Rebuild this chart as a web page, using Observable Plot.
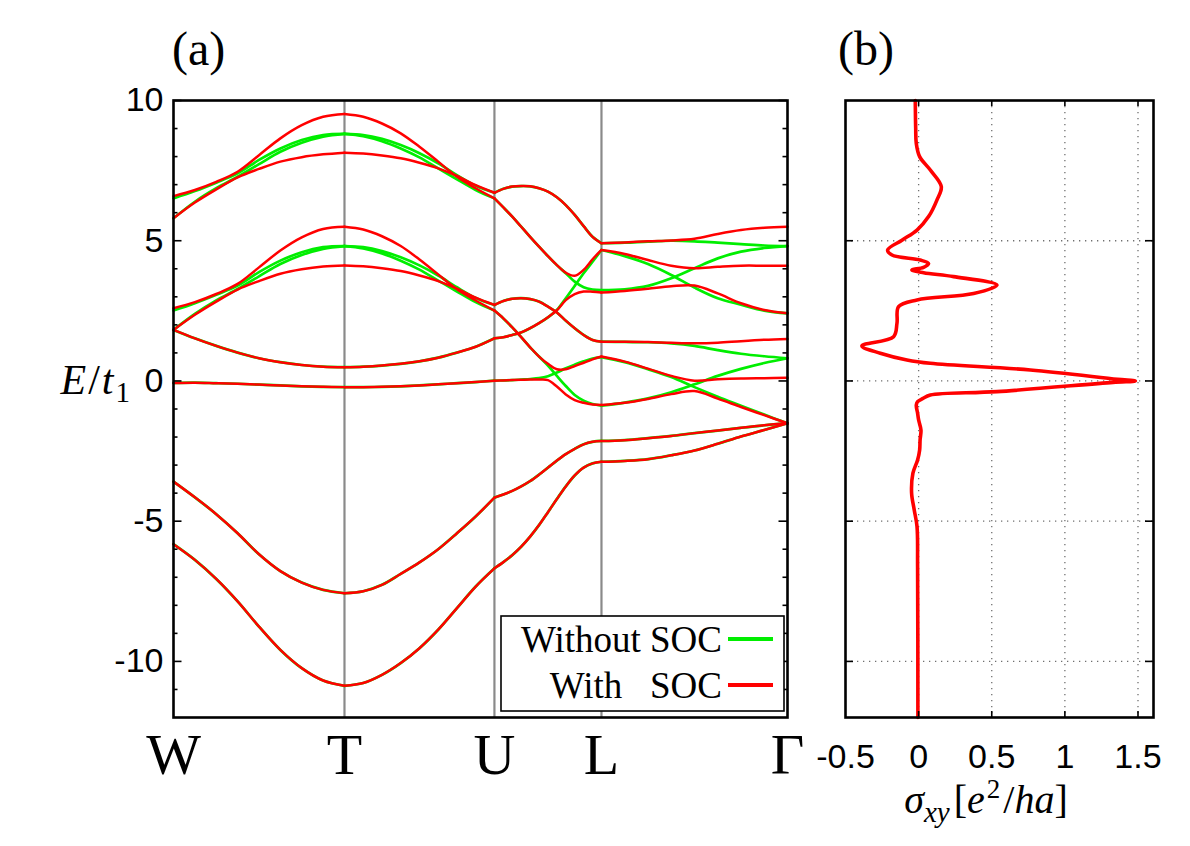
<!DOCTYPE html>
<html>
<head>
<meta charset="utf-8">
<script src="https://cdn.jsdelivr.net/npm/d3@7"></script>
<script src="https://cdn.jsdelivr.net/npm/@observablehq/plot@0.6"></script>
<style>
  body { margin: 0; background: #fff; }
  #fig { position: relative; width: 1190px; height: 846px; background: #fff; overflow: hidden; }
  #fig svg { position: absolute; top: 0; }
</style>
</head>
<body>
<div id="fig"></div>
<script>
// High-symmetry path and tick labels
const pathLabels = ["W", "T", "U", "L", "Γ"];
const pathK = [0, 1, 1.877, 2.503, 3.591];
const energyTicks = [-10, -5, 0, 5, 10];
const energyMinor = [-11, -9, -8, -7, -6, -4, -3, -2, -1, 1, 2, 3, 4, 6, 7, 8, 9];
const sigmaTicks = [-0.5, 0, 0.5, 1, 1.5];
const sigmaGridE = [-10, -5, 0, 5];

// Bands with spin-orbit coupling, one list per path segment (evenly spaced samples)
const socWT = [
  [6.59, 6.81, 7.10, 7.46, 8.05, 8.65, 9.12, 9.42, 9.52],
  [5.80, 6.36, 6.83, 7.26, 7.56, 7.82, 7.98, 8.08, 8.14],
  [2.59, 2.81, 3.10, 3.46, 4.05, 4.65, 5.12, 5.42, 5.50],
  [1.82, 2.36, 2.83, 3.26, 3.56, 3.82, 3.98, 4.08, 4.12],
  [1.82, 1.52, 1.25, 1.01, 0.81, 0.67, 0.57, 0.51, 0.49],
  [-0.07, -0.06, -0.08, -0.10, -0.13, -0.16, -0.19, -0.21, -0.22],
  [-3.59, -4.15, -4.75, -5.43, -6.18, -6.78, -7.19, -7.45, -7.57],
  [-5.82, -6.38, -7.06, -7.86, -8.76, -9.59, -10.24, -10.68, -10.87]
];
const socTU = [
  [9.52, 9.42, 9.18, 8.83, 8.35, 7.82, 7.28, 6.87, 6.51],
  [8.14, 8.11, 8.04, 7.94, 7.78, 7.58, 7.31, 6.98, 6.71],
  [5.50, 5.40, 5.16, 4.81, 4.33, 3.80, 3.27, 2.87, 2.51],
  [4.12, 4.09, 4.02, 3.92, 3.76, 3.56, 3.29, 2.97, 2.71],
  [0.49, 0.51, 0.55, 0.61, 0.70, 0.83, 1.01, 1.22, 1.52],
  [-0.22, -0.22, -0.21, -0.19, -0.16, -0.12, -0.08, -0.04, 0.01],
  [-7.57, -7.50, -7.27, -6.88, -6.47, -6.00, -5.43, -4.83, -4.16],
  [-10.87, -10.77, -10.48, -10.06, -9.53, -8.87, -8.10, -7.33, -6.68]
];
const socUL = [
  [6.71, 6.85, 6.93, 6.95, 6.94, 6.87, 6.75, 6.55, 6.27, 5.92, 5.52, 5.14, 4.91],
  [6.51, 6.19, 5.86, 5.50, 5.14, 4.79, 4.45, 4.13, 3.86, 3.75, 3.96, 4.34, 4.67],
  [1.52, 1.56, 1.64, 1.73, 1.88, 2.06, 2.27, 2.52, 2.88, 3.10, 3.19, 3.18, 3.15],
  [2.71, 2.85, 2.93, 2.95, 2.92, 2.83, 2.65, 2.44, 2.15, 1.88, 1.64, 1.46, 1.40],
  [2.51, 2.23, 1.91, 1.56, 1.20, 0.87, 0.61, 0.42, 0.42, 0.53, 0.65, 0.77, 0.87],
  [0.01, 0.02, 0.03, 0.04, 0.05, 0.05, 0.03, -0.20, -0.48, -0.68, -0.78, -0.84, -0.86],
  [-4.16, -4.05, -3.92, -3.76, -3.57, -3.34, -3.09, -2.84, -2.61, -2.42, -2.26, -2.17, -2.14],
  [-6.68, -6.46, -6.21, -5.91, -5.55, -5.14, -4.68, -4.21, -3.76, -3.37, -3.09, -2.94, -2.88]
];
const socLG = [
  [4.91, 4.94, 4.98, 5.01, 5.07, 5.24, 5.38, 5.46, 5.50],
  [4.67, 4.53, 4.31, 4.11, 4.02, 4.07, 4.11, 4.11, 4.11],
  [3.15, 3.21, 3.29, 3.38, 3.40, 3.12, 2.77, 2.53, 2.41],
  [1.40, 1.40, 1.39, 1.36, 1.34, 1.36, 1.42, 1.47, 1.50],
  [0.87, 0.69, 0.44, 0.18, 0.01, 0.06, 0.09, 0.10, 0.11],
  [-0.86, -0.78, -0.64, -0.47, -0.36, -0.63, -0.93, -1.22, -1.51],
  [-2.14, -2.11, -2.04, -1.96, -1.86, -1.77, -1.67, -1.58, -1.51],
  [-2.88, -2.85, -2.79, -2.65, -2.48, -2.24, -1.98, -1.75, -1.51]
];

// Bands without spin-orbit coupling
const bareWT = [
  [6.51, 6.77, 7.07, 7.40, 7.88, 8.29, 8.59, 8.77, 8.81],
  [5.80, 6.39, 6.87, 7.28, 7.73, 8.17, 8.49, 8.71, 8.81],
  [2.51, 2.77, 3.07, 3.40, 3.88, 4.29, 4.59, 4.77, 4.81],
  [1.82, 2.39, 2.87, 3.28, 3.73, 4.17, 4.49, 4.71, 4.81],
  [1.82, 1.52, 1.25, 1.01, 0.81, 0.67, 0.57, 0.51, 0.49],
  [-0.07, -0.06, -0.08, -0.10, -0.13, -0.16, -0.19, -0.21, -0.22],
  [-3.59, -4.15, -4.75, -5.43, -6.18, -6.78, -7.19, -7.45, -7.57],
  [-5.82, -6.38, -7.06, -7.86, -8.76, -9.59, -10.24, -10.68, -10.87]
];
const bareTU = [
  [8.81, 8.77, 8.63, 8.41, 8.12, 7.76, 7.34, 6.96, 6.71],
  [8.81, 8.73, 8.55, 8.29, 7.97, 7.58, 7.19, 6.81, 6.51],
  [4.81, 4.77, 4.63, 4.41, 4.12, 3.76, 3.34, 2.96, 2.71],
  [4.81, 4.73, 4.55, 4.29, 3.97, 3.58, 3.19, 2.81, 2.51],
  [0.49, 0.51, 0.55, 0.61, 0.70, 0.83, 1.01, 1.22, 1.52],
  [-0.22, -0.22, -0.21, -0.19, -0.16, -0.12, -0.08, -0.04, 0.01],
  [-7.57, -7.50, -7.27, -6.88, -6.47, -6.00, -5.43, -4.83, -4.16],
  [-10.87, -10.77, -10.48, -10.06, -9.53, -8.87, -8.10, -7.33, -6.68]
];
const bareUL = [
  [6.71, 6.85, 6.93, 6.95, 6.94, 6.87, 6.75, 6.55, 6.27, 5.92, 5.52, 5.14, 4.91],
  [6.51, 6.19, 5.86, 5.50, 5.14, 4.79, 4.45, 4.13, 3.84, 3.54, 3.34, 3.26, 3.24],
  [1.52, 1.56, 1.64, 1.73, 1.88, 2.06, 2.27, 2.53, 2.95, 3.39, 3.84, 4.25, 4.67],
  [2.71, 2.85, 2.93, 2.95, 2.92, 2.83, 2.65, 2.44, 2.15, 1.88, 1.64, 1.46, 1.40],
  [2.51, 2.23, 1.91, 1.56, 1.20, 0.87, 0.55, 0.18, -0.18, -0.50, -0.70, -0.82, -0.88],
  [0.01, 0.02, 0.03, 0.05, 0.07, 0.10, 0.17, 0.30, 0.45, 0.58, 0.70, 0.80, 0.85],
  [-4.16, -4.05, -3.92, -3.76, -3.57, -3.34, -3.09, -2.84, -2.61, -2.42, -2.26, -2.17, -2.14],
  [-6.68, -6.46, -6.21, -5.91, -5.55, -5.14, -4.68, -4.21, -3.76, -3.37, -3.09, -2.94, -2.88]
];
const bareLG = [
  [4.91, 4.93, 4.97, 5.00, 4.98, 4.93, 4.88, 4.83, 4.81],
  [4.67, 4.45, 4.17, 3.78, 3.33, 2.95, 2.72, 2.51, 2.41],
  [3.24, 3.27, 3.39, 3.66, 4.02, 4.37, 4.61, 4.74, 4.81],
  [1.40, 1.39, 1.38, 1.34, 1.25, 1.10, 0.97, 0.88, 0.81],
  [0.85, 0.67, 0.42, 0.14, -0.22, -0.56, -0.88, -1.20, -1.51],
  [-0.88, -0.77, -0.62, -0.40, -0.12, 0.18, 0.43, 0.64, 0.81],
  [-2.14, -2.11, -2.04, -1.96, -1.86, -1.77, -1.67, -1.58, -1.51],
  [-2.88, -2.85, -2.79, -2.65, -2.48, -2.24, -1.98, -1.75, -1.51]
];

// Anomalous Hall conductivity against energy
const sigmaE = [10, 9.0, 8.47, 8.0, 7.52, 6.93, 6.45, 5.86, 5.38, 5.02, 4.67, 4.49, 4.31, 4.19, 4.05, 3.96, 3.86,
  3.72, 3.42, 3.12, 2.89, 2.65, 2.06, 1.58, 1.25, 0.99, 0.75, 0.63, 0.39, 0.06, 0, -0.05, -0.38, -0.5, -0.62,
  -0.74, -0.86, -1.15, -1.39, -1.75, -2.1, -2.46, -2.82, -3.29, -4.0, -4.6, -5.19, -6.62, -12];
const sigmaXY = [-0.023, -0.02, -0.016, 0.007, 0.080, 0.155, 0.125, 0.068, -0.011, -0.114, -0.212, -0.182, 0.011,
  0.068, 0.034, -0.046, 0.034, 0.239, 0.536, 0.376, -0.011, -0.137, -0.148, -0.171, -0.388, -0.262, -0.080, 0.080,
  0.764, 1.36, 1.482, 1.33, 0.536, 0.08, 0.03, -0.007, -0.016, -0.007, 0.0, 0.016, 0.01, 0.007, -0.007, -0.039,
  -0.048, -0.03, -0.011, -0.007, -0.005];

// Flatten the segment tables into rows for Plot.line
function bandRows(segments) {
  const rows = [];
  segments.forEach((bands, s) => {
    const k0 = pathK[s], k1 = pathK[s + 1];
    bands.forEach((vals, b) => {
      const n = vals.length;
      vals.forEach((E, i) => rows.push({id: `${s}-${b}`, k: k0 + (k1 - k0) * i / (n - 1), E}));
    });
  });
  return rows;
}
const socRows = bandRows([socWT, socTU, socUL, socLG]);
const bareRows = bandRows([bareWT, bareTU, bareUL, bareLG]);
const sigmaRows = sigmaE.map((E, i) => ({E, s: sigmaXY[i]}));

const sans = "Liberation Sans, Arial, sans-serif";
const serif = "Liberation Serif, Times New Roman, serif";
const fig = document.getElementById("fig");

// (a) band structure
const innerWA = 614;
const plotA = Plot.plot({
  width: 820, height: 846,
  marginLeft: 173, marginRight: 33, marginTop: 100, marginBottom: 129,
  x: {domain: [pathK[0], pathK[4]]},
  y: {domain: [-12, 10]},
  style: {background: "transparent", overflow: "visible"},
  marks: [
    Plot.ruleX(pathK.slice(1, 4), {stroke: "#8a8a8a", strokeWidth: 2.2}),
    Plot.line(bareRows, {x: "k", y: "E", z: "id", stroke: "#00ee00", strokeWidth: 2.7, curve: "catmull-rom"}),
    Plot.line(socRows, {x: "k", y: "E", z: "id", stroke: "#ff0000", strokeWidth: 2.5, curve: "catmull-rom"}),
    Plot.tickY(energyMinor, {y: d => d, insetRight: innerWA - 4.5, stroke: "black", strokeWidth: 1.6}),
    Plot.tickY(energyMinor, {y: d => d, insetLeft: innerWA - 4.5, stroke: "black", strokeWidth: 1.6}),
    Plot.tickY(energyTicks, {y: d => d, insetRight: innerWA - 8.5, stroke: "black", strokeWidth: 1.6}),
    Plot.tickY(energyTicks, {y: d => d, insetLeft: innerWA - 8.5, stroke: "black", strokeWidth: 1.6}),
    Plot.frame({stroke: "black", strokeWidth: 2.6}),
    Plot.axisY({ticks: energyTicks, tickSize: 0, tickPadding: 10, fontSize: 34, fontFamily: sans,
      tickFormat: d => String(d), label: null}),
    Plot.axisX({ticks: pathK, tickSize: 0, tickPadding: 15, fontSize: 58, fontFamily: serif,
      tickFormat: d => pathLabels[pathK.indexOf(d)], label: null})
  ]
});
plotA.style.left = "0px";
fig.appendChild(plotA);

// (b) Hall conductivity
const innerHB = 617;
const plotB = Plot.plot({
  width: 390, height: 846,
  marginLeft: 45, marginRight: 37, marginTop: 100, marginBottom: 129,
  x: {domain: [-0.5, 1.606]},
  y: {domain: [-12, 10], axis: null},
  style: {background: "transparent", overflow: "visible"},
  marks: [
    Plot.ruleX(sigmaTicks.slice(1), {stroke: "#707070", strokeWidth: 1.3, strokeDasharray: "1.3 4.7"}),
    Plot.ruleY(sigmaGridE, {stroke: "#707070", strokeWidth: 1.3, strokeDasharray: "1.3 4.7"}),
    Plot.line(sigmaRows, {x: "s", y: "E", stroke: "#ff0000", strokeWidth: 3.6, curve: "catmull-rom"}),
    Plot.tickX(sigmaTicks.slice(1), {x: d => d, insetBottom: innerHB - 6, stroke: "black", strokeWidth: 1.6}),
    Plot.tickX(sigmaTicks.slice(1), {x: d => d, insetTop: innerHB - 6, stroke: "black", strokeWidth: 1.6}),
    Plot.tickY(sigmaGridE, {y: d => d, insetRight: 308 - 8, stroke: "black", strokeWidth: 1.6}),
    Plot.tickY(sigmaGridE, {y: d => d, insetLeft: 308 - 8, stroke: "black", strokeWidth: 1.6}),
    Plot.frame({stroke: "black", strokeWidth: 2.6}),
    Plot.axisX({ticks: sigmaTicks, tickSize: 0, tickPadding: 26, fontSize: 34, fontFamily: sans,
      tickFormat: d => String(d), label: null})
  ]
});
plotB.style.left = "800px";
fig.appendChild(plotB);

// Panel letters, axis titles and legend
const over = d3.create("svg").attr("width", 1190).attr("height", 846)
  .style("left", "0px").style("overflow", "visible");
over.append("text").attr("x", 172).attr("y", 65).attr("font-family", serif).attr("font-size", 48).text("(a)");
over.append("text").attr("x", 838).attr("y", 65).attr("font-family", serif).attr("font-size", 48).text("(b)");

const ey = over.append("text").attr("x", 130).attr("y", 394).attr("text-anchor", "end")
  .attr("font-family", serif).attr("font-size", 42);
ey.append("tspan").attr("font-style", "italic").text("E");
ey.append("tspan").attr("dx", 2).text("/");
ey.append("tspan").attr("font-style", "italic").attr("dx", 2).text("t");
ey.append("tspan").attr("font-size", 29).attr("dy", 8).attr("dx", 2).text("1");

const sx = over.append("text").attr("x", 986).attr("y", 813).attr("text-anchor", "middle")
  .attr("font-family", serif).attr("font-size", 40);
sx.append("tspan").attr("font-style", "italic").text("σ");
sx.append("tspan").attr("font-style", "italic").attr("font-size", 29).attr("dy", 9).text("xy");
sx.append("tspan").attr("dy", -9).attr("dx", 4).text("[");
sx.append("tspan").attr("font-style", "italic").text("e");
sx.append("tspan").attr("font-size", 27).attr("dy", -15).attr("dx", 2).text("2");
sx.append("tspan").attr("dy", 15).attr("dx", 3).text("/");
sx.append("tspan").attr("font-style", "italic").text("ha");
sx.append("tspan").text("]");

const leg = over.append("g");
leg.append("rect").attr("x", 501).attr("y", 616).attr("width", 283).attr("height", 95)
  .attr("fill", "white").attr("stroke", "black").attr("stroke-width", 1.6);
leg.append("text").attr("x", 722).attr("y", 652).attr("text-anchor", "end")
  .attr("font-family", serif).attr("font-size", 37).text("Without SOC");
leg.append("text").attr("x", 722).attr("y", 698).attr("text-anchor", "end")
  .attr("font-family", serif).attr("font-size", 37).style("white-space", "pre").text("With   SOC");
leg.append("line").attr("x1", 728).attr("x2", 773).attr("y1", 639).attr("y2", 639)
  .attr("stroke", "#00ee00").attr("stroke-width", 4);
leg.append("line").attr("x1", 728).attr("x2", 773).attr("y1", 685).attr("y2", 685)
  .attr("stroke", "#ff0000").attr("stroke-width", 4);
fig.appendChild(over.node());
</script>
</body>
</html>
